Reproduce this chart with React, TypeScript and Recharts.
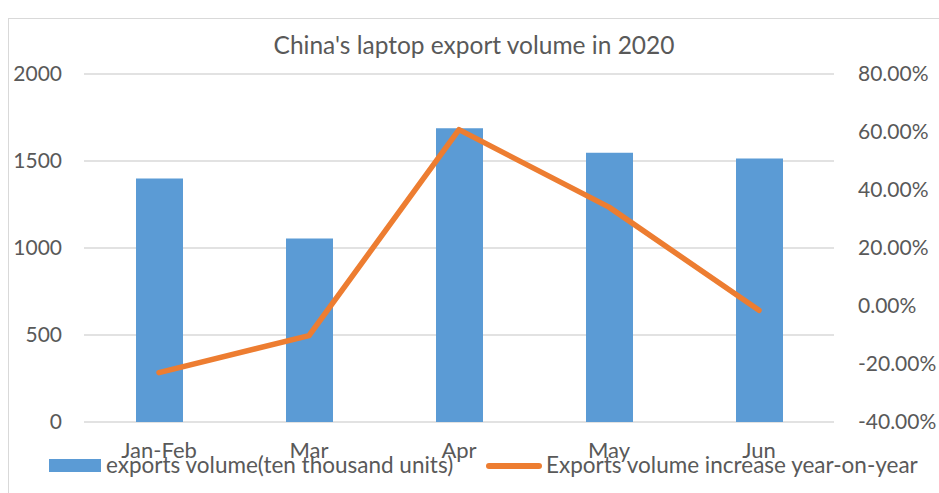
import React from "react";
import {
  ComposedChart,
  Bar,
  Line,
  XAxis,
  YAxis,
  CartesianGrid,
  Legend,
} from "recharts";

const months = ["Jan-Feb", "Mar", "Apr", "May", "Jun"];
const exportVolume = [1400, 1055, 1688, 1548, 1515];
const yoyIncrease = [-23.0, -10.2, 60.8, 34.1, -1.5];
const leftTicks = [0, 500, 1000, 1500, 2000];
const rightTicks = [-40, -20, 0, 20, 40, 60, 80];

const chartData = months.map((m, i) => ({
  month: m,
  volume: exportVolume[i],
  yoy: yoyIncrease[i],
}));

const FONT = "Lato, 'Liberation Sans', sans-serif";
const TEXT = "#595959";

function ChartLegend() {
  return (
    <div style={{ position: "relative", height: 24, fontFamily: FONT, fontSize: 22.5, color: TEXT }}>
      <div style={{ position: "absolute", left: 49, top: 5, width: 52, height: 13, background: "#5b9bd5" }} />
      <span style={{ position: "absolute", left: 106, top: -1, lineHeight: "24px", whiteSpace: "nowrap" }}>
        exports volume(ten thousand units)
      </span>
      <div style={{ position: "absolute", left: 486, top: 9, width: 56, height: 6, borderRadius: 3, background: "#ed7d31" }} />
      <span style={{ position: "absolute", left: 546, top: -1, lineHeight: "24px", whiteSpace: "nowrap" }}>
        Exports volume increase year-on-year
      </span>
    </div>
  );
}

export default function App() {
  return (
    <div style={{ position: "absolute", left: 0, top: 0, width: 939, height: 493, overflow: "hidden", background: "#fff" }}>
      <div
        style={{
          position: "absolute",
          left: 8,
          top: 18,
          width: 1000,
          height: 600,
          border: "1.5px solid #d9d9d9",
        }}
      />
      <ComposedChart
        width={939}
        height={493}
        data={chartData}
        margin={{ top: 74, right: 0, bottom: 0, left: 0 }}
      >
        <text x={474} y={54} textAnchor="middle" fontFamily={FONT} fontSize={24.5} fill={TEXT}>
          China's laptop export volume in 2020
        </text>
        <CartesianGrid vertical={false} stroke="#d9d9d9" strokeWidth={1.5} yAxisId="left" />
        <XAxis
          dataKey="month"
          axisLine={false}
          tickLine={false}
          tickSize={0}
          tickMargin={20}
          height={47}
          interval={0}
          tick={{ fill: TEXT, fontSize: 22, fontFamily: FONT }}
        />
        <YAxis
          yAxisId="left"
          domain={[0, 2000]}
          ticks={leftTicks}
          axisLine={false}
          tickLine={false}
          tickSize={0}
          tickMargin={22}
          width={84}
          tick={{ fill: TEXT, fontSize: 21, fontFamily: FONT }}
        />
        <YAxis
          yAxisId="right"
          orientation="right"
          domain={[-40, 80]}
          ticks={rightTicks}
          axisLine={false}
          tickLine={false}
          tickSize={0}
          tickMargin={24}
          width={105}
          tickFormatter={(v: number) => `${v.toFixed(2)}%`}
          tick={{ fill: TEXT, fontSize: 21, fontFamily: FONT }}
        />
        <Legend
          verticalAlign="bottom"
          content={() => <ChartLegend />}
          wrapperStyle={{ left: 0, bottom: 15, width: 939, height: 24 }}
        />
        <Bar
          yAxisId="left"
          dataKey="volume"
          name="exports volume(ten thousand units)"
          fill="#5b9bd5"
          barSize={47}
          isAnimationActive={false}
        />
        <Line
          yAxisId="right"
          type="linear"
          dataKey="yoy"
          name="Exports volume increase year-on-year"
          stroke="#ed7d31"
          strokeWidth={5.5}
          strokeLinejoin="round"
          strokeLinecap="round"
          dot={false}
          isAnimationActive={false}
        />
      </ComposedChart>
    </div>
  );
}
